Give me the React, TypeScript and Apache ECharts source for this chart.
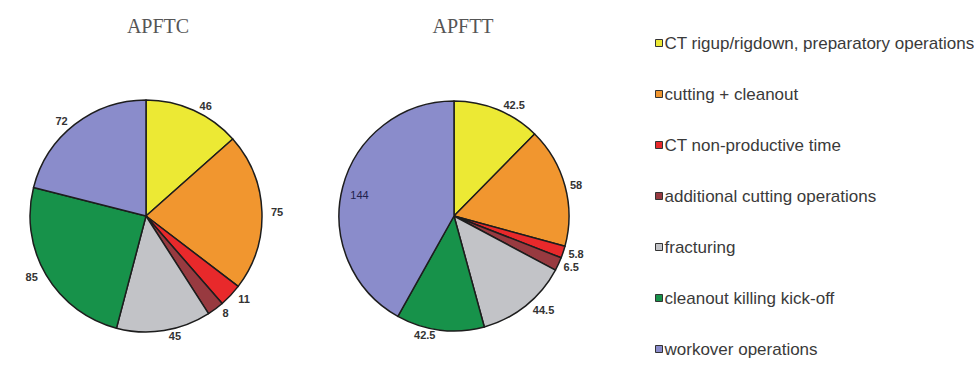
import React, { useEffect, useRef } from "react";
import * as echarts from "echarts";

// Operation categories shared by both pies (and the legend)
const categories = [
  "CT rigup/rigdown, preparatory operations",
  "cutting + cleanout",
  "CT non-productive time",
  "additional cutting operations",
  "fracturing",
  "cleanout killing kick-off",
  "workover operations",
];

const colors = ["#ece934", "#f1962f", "#e8292b", "#983a40", "#c2c3c7", "#17924a", "#8a8ccb"];

const apftcValues = [46, 75, 11, 8, 45, 85, 72];
const apfttValues = [42.5, 58, 5.8, 6.5, 44.5, 42.5, 144];

const titles = ["APFTC", "APFTT"];

const labelFont = "'Liberation Sans', Arial, sans-serif";
const titleFont = "'Liberation Serif', 'Times New Roman', serif";

function buildData(values: number[], innerLabelIndex: number | null) {
  return values.map((v, i) => {
    const item: any = { name: categories[i], value: v, itemStyle: { color: colors[i] } };
    if (i === innerLabelIndex) {
      // pull this label back inside the slice edge
      item.labelLine = { show: false, length: -31, length2: 0 };
      item.label = { color: "#23234d", fontWeight: "normal" };
    }
    return item;
  });
}

export default function App() {
  const ref = useRef<HTMLDivElement>(null);

  useEffect(() => {
    if (!ref.current) return;
    const chart = echarts.init(ref.current, null, { renderer: "svg" });

    const pieBase = {
      type: "pie",
      startAngle: 90,
      clockwise: true,
      avoidLabelOverlap: true,
      itemStyle: { borderColor: "#1d1d1d", borderWidth: 1.5 },
      label: {
        show: true,
        position: "outside",
        formatter: "{c}",
        fontFamily: labelFont,
        fontSize: 11,
        fontWeight: "bold",
        color: "#333",
        distanceToLabelLine: 4,
      },
      labelLine: { show: false, length: 5, length2: 0 },
      emphasis: { disabled: true },
    };

    const titleStyle = { fontFamily: titleFont, fontSize: 20, fontWeight: "normal", color: "#555" };

    chart.setOption({
      animation: false,
      backgroundColor: "#ffffff",
      title: [
        { text: titles[0], left: 153, top: 11, textAlign: "center", textStyle: titleStyle },
        { text: titles[1], left: 458, top: 11, textAlign: "center", textStyle: titleStyle },
      ],
      legend: {
        orient: "vertical",
        left: 650,
        top: 29,
        itemWidth: 7,
        itemHeight: 7,
        itemGap: 33,
        icon: "rect",
        selectedMode: false,
        data: categories,
        itemStyle: { borderColor: "#333", borderWidth: 1 },
        textStyle: {
          fontFamily: labelFont,
          fontSize: 17,
          lineHeight: 18,
          color: "#3a3a3a",
          padding: [0, 0, 0, -3],
        },
      },
      series: [
        { ...pieBase, name: titles[0], center: [146, 216], radius: 116, data: buildData(apftcValues, null) },
        { ...pieBase, name: titles[1], center: [454, 216], radius: 115, data: buildData(apfttValues, 6) },
      ],
    });

    return () => chart.dispose();
  }, []);

  return (
    <div
      ref={ref}
      style={{ position: "fixed", left: 0, top: 0, width: 974, height: 368, background: "#fff" }}
    />
  );
}
